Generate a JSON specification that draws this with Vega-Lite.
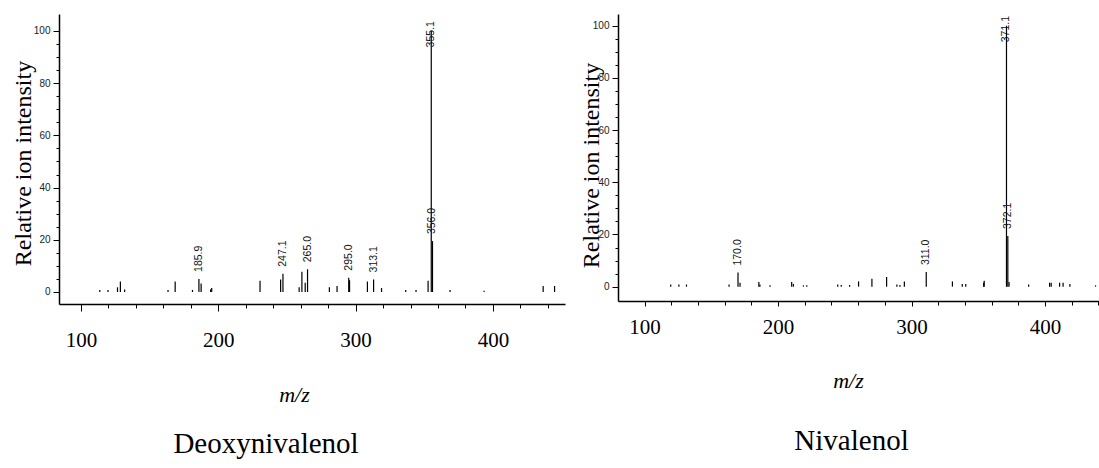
{
  "$schema": "https://vega.github.io/schema/vega-lite/v6.json",
  "background": "white",
  "padding": {"left": 11, "top": 14, "right": 0, "bottom": 0},
  "spacing": 53,
  "bounds": "flush",
  "config": {"view": {"stroke": null}},
  "datasets": {
    "don": [
      {"mz": 113.7, "intensity": 0.8, "label": ""},
      {"mz": 119.7, "intensity": 0.8, "label": ""},
      {"mz": 126.6, "intensity": 1.8, "label": ""},
      {"mz": 128.7, "intensity": 4.0, "label": ""},
      {"mz": 131.8, "intensity": 1.0, "label": ""},
      {"mz": 163.4, "intensity": 0.8, "label": ""},
      {"mz": 168.6, "intensity": 4.0, "label": ""},
      {"mz": 181.2, "intensity": 0.8, "label": ""},
      {"mz": 185.9, "intensity": 5.0, "label": "185.9"},
      {"mz": 187.5, "intensity": 3.3, "label": ""},
      {"mz": 194.4, "intensity": 1.0, "label": ""},
      {"mz": 195.2, "intensity": 1.5, "label": ""},
      {"mz": 230.4, "intensity": 4.3, "label": ""},
      {"mz": 245.4, "intensity": 4.8, "label": ""},
      {"mz": 247.1, "intensity": 7.0, "label": "247.1"},
      {"mz": 258.9, "intensity": 1.8, "label": ""},
      {"mz": 260.9, "intensity": 7.8, "label": ""},
      {"mz": 263.3, "intensity": 3.5, "label": ""},
      {"mz": 265.0, "intensity": 8.7, "label": "265.0"},
      {"mz": 280.9, "intensity": 1.8, "label": ""},
      {"mz": 286.5, "intensity": 2.3, "label": ""},
      {"mz": 295.0, "intensity": 5.5, "label": "295.0"},
      {"mz": 295.6, "intensity": 4.5, "label": ""},
      {"mz": 308.6, "intensity": 4.0, "label": ""},
      {"mz": 313.1, "intensity": 4.8, "label": "313.1"},
      {"mz": 318.9, "intensity": 1.5, "label": ""},
      {"mz": 336.5, "intensity": 0.8, "label": ""},
      {"mz": 344.0, "intensity": 0.8, "label": ""},
      {"mz": 352.8, "intensity": 4.3, "label": ""},
      {"mz": 355.1, "intensity": 100, "label": "355.1"},
      {"mz": 356.0, "intensity": 19.5, "label": "356.0"},
      {"mz": 368.8, "intensity": 0.8, "label": ""},
      {"mz": 393.6, "intensity": 0.5, "label": ""},
      {"mz": 436.6, "intensity": 2.3, "label": ""},
      {"mz": 444.9, "intensity": 2.3, "label": ""}
    ],
    "niv": [
      {"mz": 119.6, "intensity": 0.8, "label": ""},
      {"mz": 125.7, "intensity": 0.8, "label": ""},
      {"mz": 131.4, "intensity": 0.8, "label": ""},
      {"mz": 163.3, "intensity": 0.8, "label": ""},
      {"mz": 170.0, "intensity": 5.4, "label": "170.0"},
      {"mz": 171.5, "intensity": 1.5, "label": ""},
      {"mz": 185.6, "intensity": 1.8, "label": ""},
      {"mz": 186.4, "intensity": 0.8, "label": ""},
      {"mz": 194.0, "intensity": 0.5, "label": ""},
      {"mz": 210.2, "intensity": 1.8, "label": ""},
      {"mz": 211.5, "intensity": 1.0, "label": ""},
      {"mz": 219.0, "intensity": 0.5, "label": ""},
      {"mz": 221.5, "intensity": 0.5, "label": ""},
      {"mz": 244.7, "intensity": 0.8, "label": ""},
      {"mz": 247.3, "intensity": 0.6, "label": ""},
      {"mz": 253.6, "intensity": 0.6, "label": ""},
      {"mz": 260.3, "intensity": 2.0, "label": ""},
      {"mz": 270.3, "intensity": 3.0, "label": ""},
      {"mz": 281.3, "intensity": 3.7, "label": ""},
      {"mz": 289.0, "intensity": 0.8, "label": ""},
      {"mz": 291.3, "intensity": 0.6, "label": ""},
      {"mz": 294.6, "intensity": 2.0, "label": ""},
      {"mz": 311.0, "intensity": 5.6, "label": "311.0"},
      {"mz": 330.6, "intensity": 2.0, "label": ""},
      {"mz": 338.0, "intensity": 1.0, "label": ""},
      {"mz": 340.6, "intensity": 1.0, "label": ""},
      {"mz": 354.0, "intensity": 1.5, "label": ""},
      {"mz": 354.4, "intensity": 2.3, "label": ""},
      {"mz": 371.1, "intensity": 100, "label": "371.1"},
      {"mz": 372.1, "intensity": 19.4, "label": "372.1"},
      {"mz": 373.0, "intensity": 1.8, "label": ""},
      {"mz": 387.7, "intensity": 0.8, "label": ""},
      {"mz": 403.4, "intensity": 1.5, "label": ""},
      {"mz": 404.6, "intensity": 1.5, "label": ""},
      {"mz": 410.9, "intensity": 1.5, "label": ""},
      {"mz": 413.5, "intensity": 1.5, "label": ""},
      {"mz": 418.6, "intensity": 1.0, "label": ""},
      {"mz": 437.8, "intensity": 0.5, "label": ""}
    ]
  },
  "hconcat": [
    {
      "width": 506,
      "height": 290,
      "data": {"name": "don"},
      "title": {"text": "Deoxynivalenol", "orient": "bottom", "font": "Liberation Serif", "fontSize": 29, "fontWeight": "normal", "color": "black", "dx": -46, "offset": 25},
      "resolve": {"axis": {"x": "independent", "y": "independent"}},
      "layer": [
        {
          "mark": {"type": "rule", "color": "black", "strokeWidth": 1.2},
          "encoding": {
            "x": {
              "field": "mz", "type": "quantitative",
              "scale": {"domain": [84, 452.5], "nice": false, "zero": false},
              "axis": {
                "orient": "bottom",
                "values": [100, 120, 140, 160, 180, 200, 220, 240, 260, 280, 300, 320, 340, 360, 380, 400, 420, 440],
                "format": "d",
                "labelExpr": "datum.value % 100 === 0 ? datum.label : ''",
                "tickSize": {"condition": {"test": "datum.value % 100 === 0", "value": 7}, "value": 4},
                "grid": false, "domainColor": "black", "domainWidth": 1.5, "tickColor": "black", "tickWidth": 1,
                "labelFont": "Liberation Serif", "labelFontSize": 21, "labelColor": "black", "labelPadding": 18,
                "labelFlush": false, "labelOverlap": false,
                "title": "m/z", "titleFont": "Liberation Serif", "titleFontStyle": "italic", "titleFontSize": 22,
                "titleFontWeight": "normal", "titleColor": "black", "titleX": 235, "titleY": 90,
                "titleBaseline": "middle", "titleAlign": "center"
              }
            },
            "y": {
              "field": "intensity", "type": "quantitative",
              "scale": {"domain": [-4.6, 106.5], "nice": false, "zero": false},
              "axis": {
                "orient": "left",
                "values": [0, 5, 10, 15, 20, 25, 30, 35, 40, 45, 50, 55, 60, 65, 70, 75, 80, 85, 90, 95, 100],
                "labelExpr": "datum.value % 20 === 0 ? datum.label : ''",
                "tickSize": {"condition": {"test": "datum.value % 20 === 0", "value": 6}, "value": 3},
                "grid": false, "domainColor": "black", "domainWidth": 1.5, "tickColor": "black", "tickWidth": 1,
                "labelFont": "Liberation Sans", "labelFontSize": 10, "labelColor": "#222", "labelPadding": 3,
                "labelOverlap": false, "labelFlush": false,
                "title": "Relative ion intensity", "titleFont": "Liberation Serif", "titleFontSize": 24,
                "titleFontWeight": "normal", "titleColor": "black", "titleX": -36, "titleY": 149,
                "titleBaseline": "middle", "titleAlign": "center", "titleAngle": 270
              }
            },
            "y2": {"datum": 0}
          }
        },
        {
          "transform": [
            {"filter": "datum.label !== ''"},
            {"calculate": "min(datum.intensity, 91)", "as": "labelPos"}
          ],
          "mark": {"type": "text", "angle": 270, "align": "left", "baseline": "middle", "dx": 7, "font": "Liberation Sans", "fontSize": 10.5, "color": "#111"},
          "encoding": {
            "x": {"field": "mz", "type": "quantitative", "axis": null},
            "y": {"field": "labelPos", "type": "quantitative", "axis": null},
            "text": {"field": "label"}
          }
        }
      ]
    },
    {
      "width": 481,
      "height": 287,
      "data": {"name": "niv"},
      "title": {"text": "Nivalenol", "orient": "bottom", "font": "Liberation Serif", "fontSize": 29, "fontWeight": "normal", "color": "black", "dx": -7, "offset": 36},
      "resolve": {"axis": {"x": "independent", "y": "independent"}},
      "layer": [
        {
          "mark": {"type": "rule", "color": "black", "strokeWidth": 1.2},
          "encoding": {
            "x": {
              "field": "mz", "type": "quantitative",
              "scale": {"domain": [80.1, 440.4], "nice": false, "zero": false},
              "axis": {
                "orient": "bottom",
                "values": [100, 120, 140, 160, 180, 200, 220, 240, 260, 280, 300, 320, 340, 360, 380, 400, 420, 440],
                "format": "d",
                "labelExpr": "datum.value % 100 === 0 ? datum.label : ''",
                "tickSize": {"condition": {"test": "datum.value % 100 === 0", "value": 5}, "value": 4},
                "grid": false, "domainColor": "black", "domainWidth": 1.5, "tickColor": "black", "tickWidth": 1,
                "labelFont": "Liberation Serif", "labelFontSize": 21, "labelColor": "black", "labelPadding": 10,
                "labelFlush": false, "labelOverlap": false,
                "title": "m/z", "titleFont": "Liberation Serif", "titleFontStyle": "italic", "titleFontSize": 22,
                "titleFontWeight": "normal", "titleColor": "black", "titleX": 230, "titleY": 79,
                "titleBaseline": "middle", "titleAlign": "center"
              }
            },
            "y": {
              "field": "intensity", "type": "quantitative",
              "scale": {"domain": [-5.5, 104.5], "nice": false, "zero": false},
              "axis": {
                "orient": "left",
                "values": [0, 5, 10, 15, 20, 25, 30, 35, 40, 45, 50, 55, 60, 65, 70, 75, 80, 85, 90, 95, 100],
                "labelExpr": "datum.value % 20 === 0 ? datum.label : ''",
                "tickSize": {"condition": {"test": "datum.value % 20 === 0", "value": 6}, "value": 3},
                "grid": false, "domainColor": "black", "domainWidth": 1.5, "tickColor": "black", "tickWidth": 1,
                "labelFont": "Liberation Sans", "labelFontSize": 10, "labelColor": "#222", "labelPadding": 3,
                "labelOverlap": false, "labelFlush": false,
                "title": "Relative ion intensity", "titleFont": "Liberation Serif", "titleFontSize": 24,
                "titleFontWeight": "normal", "titleColor": "black", "titleX": -27, "titleY": 151,
                "titleBaseline": "middle", "titleAlign": "center", "titleAngle": 270
              }
            },
            "y2": {"datum": 0}
          }
        },
        {
          "transform": [
            {"filter": "datum.label !== ''"},
            {"calculate": "min(datum.intensity, 91)", "as": "labelPos"}
          ],
          "mark": {"type": "text", "angle": 270, "align": "left", "baseline": "middle", "dx": 7, "font": "Liberation Sans", "fontSize": 10.5, "color": "#111"},
          "encoding": {
            "x": {"field": "mz", "type": "quantitative", "axis": null},
            "y": {"field": "labelPos", "type": "quantitative", "axis": null},
            "text": {"field": "label"}
          }
        }
      ]
    }
  ]
}
